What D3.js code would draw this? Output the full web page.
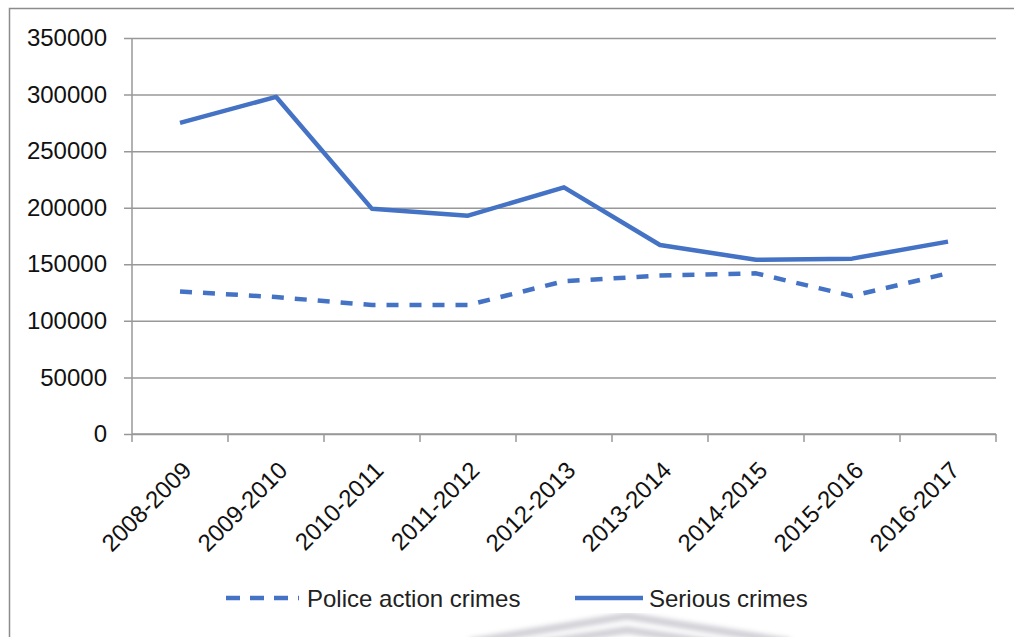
<!DOCTYPE html>
<html>
<head>
<meta charset="utf-8">
<script src="https://cdn.jsdelivr.net/npm/d3@7"></script>
<style>
  html, body { margin: 0; padding: 0; background: #fff; }
  svg { display: block; }
</style>
</head>
<body>
<svg id="chart" width="1014" height="637"></svg>
<script>
// Crime counts per financial year
const years = ["2008-2009", "2009-2010", "2010-2011", "2011-2012", "2012-2013",
               "2013-2014", "2014-2015", "2015-2016", "2016-2017"];
const policeAction = [126000, 121000, 114000, 114000, 135000, 140000, 142000, 122000, 142000];
const serious = [275000, 298000, 199000, 193000, 218000, 167000, 154000, 155000, 170000];
const yTicks = [0, 50000, 100000, 150000, 200000, 250000, 300000, 350000];
const seriesNames = ["Police action crimes", "Serious crimes"];

const svg = d3.select("#chart");
const blue = "#4472C4";
const grid = "#989898";
const font = "'Liberation Sans', Arial, sans-serif";

const plot = { left: 132, right: 996, top: 38, bottom: 434 };

const x = d3.scaleBand().domain(years).range([plot.left, plot.right]);
const y = d3.scaleLinear().domain([0, 350000]).range([plot.bottom, plot.top]);

// Background watermark chevrons
const defs = svg.append("defs");
defs.append("filter").attr("id", "soft")
  .append("feGaussianBlur").attr("stdDeviation", 2.5);
const wm = svg.append("g").attr("filter", "url(#soft)")
  .attr("fill", "none").attr("stroke", "#cdcdd4").attr("stroke-width", 7);
wm.append("path").attr("d", "M470,642 L627,616 L790,642");
wm.append("path").attr("d", "M520,646 L627,630 L735,646");

// Outer frame (top and left edges)
svg.append("path")
  .attr("d", "M9.5,637 L9.5,8.5 L1014,8.5")
  .attr("fill", "none").attr("stroke", "#8c8c8c").attr("stroke-width", 1.5);

// Horizontal gridlines
const yAxis = d3.axisLeft(y).tickValues(yTicks).tickSize(plot.right - plot.left + 8)
  .tickFormat(d3.format("d")).tickPadding(17);
const gy = svg.append("g").attr("transform", `translate(${plot.right},0)`).call(yAxis);
gy.select(".domain").remove();
gy.selectAll(".tick line").attr("stroke", grid).attr("stroke-width", 1.5);
gy.selectAll(".tick text")
  .attr("font-family", font).attr("font-size", 24).attr("fill", "#111");

// Vertical axis line
svg.append("line")
  .attr("x1", plot.left).attr("x2", plot.left)
  .attr("y1", plot.top).attr("y2", plot.bottom)
  .attr("stroke", grid).attr("stroke-width", 1.5);

// Category axis with boundary ticks
const gx = svg.append("g").attr("transform", `translate(0,${plot.bottom})`);
gx.append("line").attr("x1", plot.left).attr("x2", plot.right)
  .attr("stroke", grid).attr("stroke-width", 1.5);
const bounds = years.map(d => x(d)).concat([plot.right]);
gx.selectAll("line.tk").data(bounds).join("line").attr("class", "tk")
  .attr("x1", d => d).attr("x2", d => d).attr("y1", 0).attr("y2", 8)
  .attr("stroke", grid).attr("stroke-width", 1.5);
gx.selectAll("text").data(years).join("text")
  .attr("transform", d => `translate(${x(d) + x.bandwidth() / 2 + 1},${26}) rotate(-45)`)
  .attr("text-anchor", "end")
  .attr("dy", "0.7em")
  .attr("font-family", font).attr("font-size", 24).attr("fill", "#111")
  .text(d => d);

// Series lines
const line = d3.line()
  .x((d, i) => x(years[i]) + x.bandwidth() / 2)
  .y(d => y(d));

svg.append("path").datum(policeAction)
  .attr("d", line).attr("fill", "none")
  .attr("stroke", blue).attr("stroke-width", 4.5)
  .attr("stroke-dasharray", "12 11")
  .attr("stroke-linejoin", "round");

svg.append("path").datum(serious)
  .attr("d", line).attr("fill", "none")
  .attr("stroke", blue).attr("stroke-width", 4.5)
  .attr("stroke-linejoin", "round");

// Legend
const legend = svg.append("g").attr("font-family", font).attr("font-size", 24).attr("fill", "#222");
const legendItems = [
  { name: seriesNames[0], x0: 226, x1: 299, dash: "14 10", tx: 307 },
  { name: seriesNames[1], x0: 575, x1: 643, dash: null, tx: 649 }
];
legendItems.forEach(it => {
  legend.append("line")
    .attr("x1", it.x0).attr("x2", it.x1).attr("y1", 598).attr("y2", 598)
    .attr("stroke", blue).attr("stroke-width", 4.5)
    .attr("stroke-dasharray", it.dash);
  legend.append("text").attr("x", it.tx).attr("y", 598).attr("dy", "0.36em")
    .text(it.name);
});
</script>
</body>
</html>
